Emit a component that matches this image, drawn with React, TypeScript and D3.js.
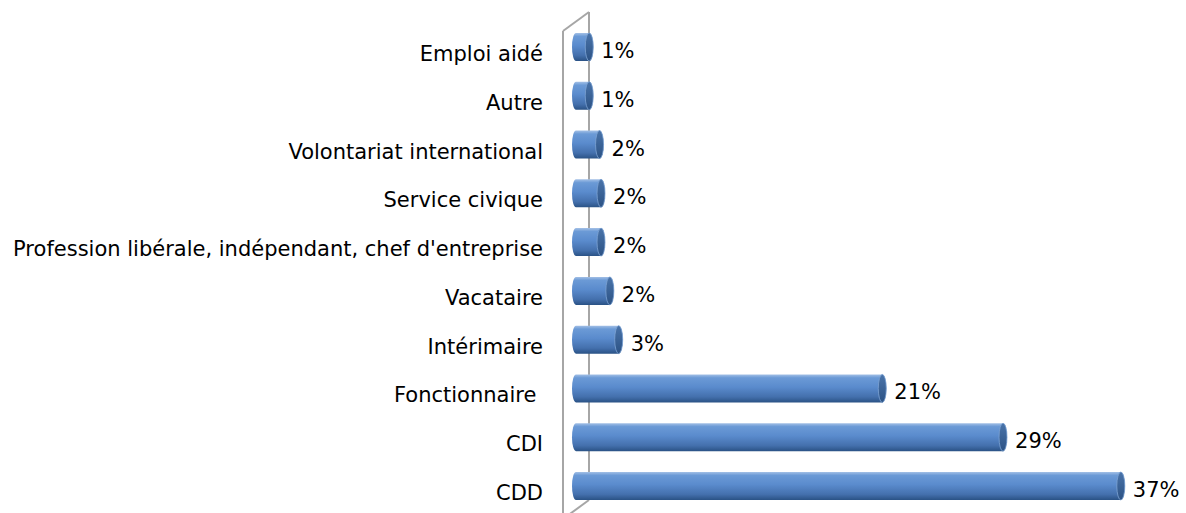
import React from 'react';
import * as d3 from 'd3';

const categories = [
  'Emploi aidé',
  'Autre',
  'Volontariat international',
  'Service civique',
  "Profession libérale, indépendant, chef d'entreprise",
  'Vacataire',
  'Intérimaire',
  'Fonctionnaire ',
  'CDI',
  'CDD',
];
// bar lengths (labels show the rounded figures)
const values = [0.9, 0.9, 1.6, 1.7, 1.7, 2.3, 2.9, 20.8, 29.0, 37.0];
const valueLabels = ['1%', '1%', '2%', '2%', '2%', '2%', '3%', '21%', '29%', '37%'];

const width = 1186;
const height = 513;
const font = '"DejaVu Sans", sans-serif';

export default function App() {
  const x = d3.scaleLinear().domain([0, 40]).range([576, 576 + 589]);
  const y = d3.scalePoint<string>().domain(categories).range([47, 486]);
  const barH = 28;
  const rx = 4;

  const barPath = (v: number, cy: number) => {
    const x0 = x(0);
    const x1 = x(v);
    const t = cy - barH / 2;
    const b = cy + barH / 2;
    return `M${x0},${t} L${x1},${t} A${rx},${barH / 2} 0 0 1 ${x1},${b} L${x0},${b} A${rx},${barH / 2} 0 0 1 ${x0},${t} Z`;
  };

  return (
    <div style={{ position: 'absolute', left: 0, top: 0 }}>
      <svg width={width} height={height} style={{ display: 'block' }}>
        <defs>
          <linearGradient id="cyl" x1="0" y1="0" x2="0" y2="1">
            <stop offset="0" stopColor="#a3c0e6" />
            <stop offset="0.12" stopColor="#6b9ad6" />
            <stop offset="0.45" stopColor="#5a8bcd" />
            <stop offset="0.8" stopColor="#4470ad" />
            <stop offset="1" stopColor="#2a5285" />
          </linearGradient>
          <linearGradient id="cap" x1="0" y1="0" x2="0" y2="1">
            <stop offset="0" stopColor="#4a74aa" />
            <stop offset="1" stopColor="#2c5284" />
          </linearGradient>
        </defs>

        {/* wall */}
        <g stroke="#a6a6a6" strokeWidth={2} fill="none">
          <line x1={563} y1={31} x2={563} y2={520} />
          <line x1={589} y1={12} x2={589} y2={500} />
          <line x1={563} y1={31} x2={589} y2={12} />
          <line x1={563} y1={519} x2={589} y2={500} />
        </g>

        {categories.map((c, i) => {
          const cy = y(c) as number;
          const x1 = x(values[i]);
          return (
            <g key={c}>
              <path d={barPath(values[i], cy)} fill="url(#cyl)" />
              <ellipse cx={x1} cy={cy} rx={rx} ry={barH / 2} fill="url(#cap)" stroke="#7ea3d3" strokeWidth={0.8} />
              <text
                x={x1 + rx + 8}
                y={cy + 5}
                dominantBaseline="middle"
                fontFamily={font}
                fontSize={21}
                fill="#000"
              >
                {valueLabels[i]}
              </text>
              <text
                x={543}
                y={cy + 8}
                textAnchor="end"
                dominantBaseline="middle"
                fontFamily={font}
                fontSize={21}
                fill="#000"
                style={{ whiteSpace: 'pre' }}
              >
                {c}
              </text>
            </g>
          );
        })}
      </svg>
    </div>
  );
}
